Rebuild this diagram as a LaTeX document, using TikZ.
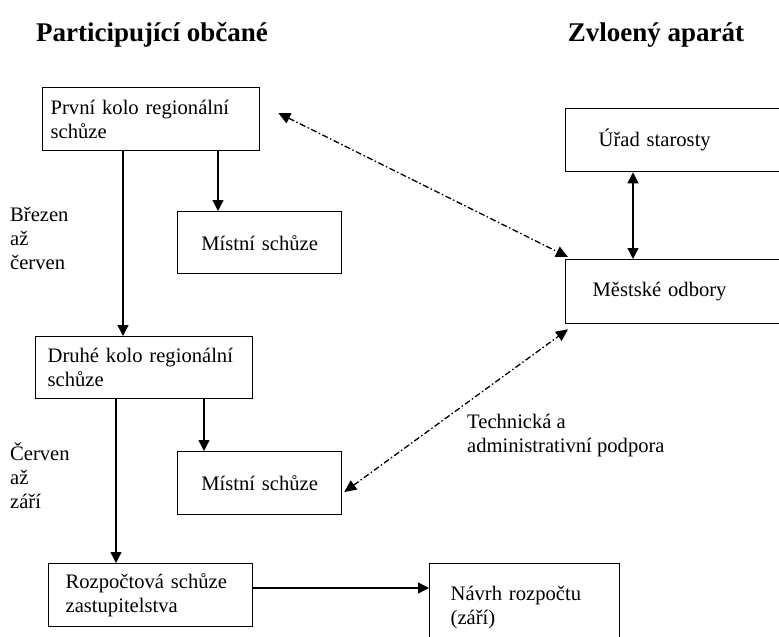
\documentclass[tikz,border=0pt]{standalone}
\usepackage{fontspec}
\setmainfont{Liberation Serif}
\usetikzlibrary{arrows.meta}
\begin{document}
\begin{tikzpicture}[x=1pt,y=-1pt,
  txt/.style={font=\fontsize{20.6}{24}\selectfont},
  box/.style={draw, line width=1.3pt, anchor=north west, align=left, inner ysep=0pt, txt},
  arr/.style={line width=1.3pt, -{Triangle[length=11pt,width=11pt]}},
  darr/.style={line width=1.3pt, {Triangle[length=11pt,width=11pt]}-{Triangle[length=11pt,width=11pt]}},
  ddarr/.style={line width=1.3pt, dash pattern=on 6pt off 2.5pt on 1.5pt off 2.5pt, {Triangle[length=12pt,width=11pt]}-{Triangle[length=12pt,width=11pt]}},
  title/.style={font=\fontsize{27}{30}\selectfont\bfseries}]
\clip (0,0) rectangle (779,637);
\fill[white] (0,0) rectangle (779,637);

\node[title] (t1) at (152,35) {Participující občané};
\node[title] (t2) at (656,35) {Zvloený aparát};

\node[box, minimum width=217pt, minimum height=63pt, text width=201pt, inner xsep=8pt] (b1) at (42,87) {První kolo regionální\\schůze};
\node[box, minimum width=164pt, minimum height=62pt, text width=164pt, inner xsep=0pt, align=center] (m1) at (177,211) {Místní schůze};
\node[box, minimum width=217pt, minimum height=62pt, text width=193pt, inner xsep=12pt] (b2) at (35,336) {Druhé kolo regionální\\schůze};
\node[box, minimum width=164pt, minimum height=63pt, text width=164pt, inner xsep=0pt, align=center] (m2) at (177,451) {Místní schůze};
\node[box, minimum width=204pt, minimum height=63pt, text width=170pt, inner xsep=17pt] (b3) at (48,563) {Rozpočtová schůze\\zastupitelstva};
\node[box, minimum width=190pt, minimum height=88pt, text width=148pt, inner xsep=21pt] (nav) at (429,563) {Návrh rozpočtu\\(září)};
\node[box, minimum width=230pt, minimum height=63pt, text width=164pt, inner xsep=33pt] (ur) at (565,108) {Úřad starosty};
\node[box, minimum width=230pt, minimum height=64pt, text width=176pt, inner xsep=27pt] (me) at (565,259) {Městské odbory};

\node[txt, anchor=west, align=left, inner sep=0pt] (l1) at (10,238) {Březen\\až\\červen};
\node[txt, anchor=west, align=left, inner sep=0pt] (l2) at (10,476) {Červen\\až\\září};
\node[txt, anchor=west, align=left, inner sep=0pt] (l3) at (467,436) {Technická a\\administrativní podpora};

\coordinate (a1) at ([xshift=41pt]m1.north west);
\coordinate (a2) at ([xshift=81pt]b1.south west);
\coordinate (a3) at ([xshift=27pt]m2.north west);
\coordinate (a4) at ([xshift=68pt]b3.north west);
\coordinate (a5) at ([yshift=-25pt]b3.north east);
\coordinate (a6) at ([xshift=68pt]ur.south west);
\coordinate (d1) at ([shift={(18,26)}]b1.north east);
\coordinate (d2) at ([shift={(3,-2)}]me.north west);
\coordinate (d3) at ([shift={(2,41)}]m2.north east);
\coordinate (d4) at ([shift={(3,5)}]me.south west);

\draw[arr] (a1 |- b1.south) -- (a1);
\draw[arr] (a2) -- (a2 |- b2.north);
\draw[arr] (a3 |- b2.south) -- (a3);
\draw[arr] (a4 |- b2.south) -- (a4);
\draw[arr] (a5) -- (a5 -| nav.west);
\draw[darr] (a6) -- (a6 |- me.north);
\draw[ddarr] (d1) -- (d2);
\draw[ddarr] (d3) -- (d4);
\end{tikzpicture}
\end{document}
